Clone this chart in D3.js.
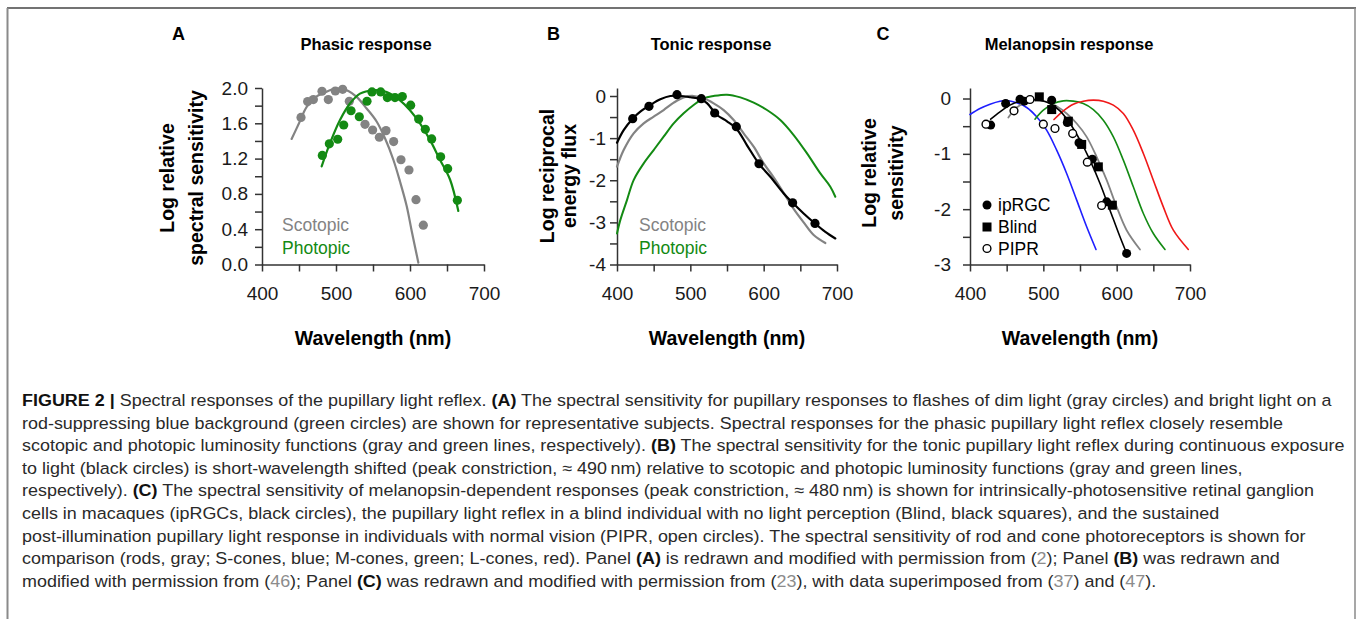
<!DOCTYPE html>
<html>
<head>
<meta charset="utf-8">
<script src="https://cdn.jsdelivr.net/npm/d3@7/dist/d3.min.js"></script>
<style>
  body { margin: 0; background: #fff; }
  svg { display: block; font-family: "Liberation Sans", Arial, Helvetica, sans-serif; }
</style>
</head>
<body>
<svg id="fig" width="1357" height="619"></svg>
<script>
// ---- data: [wavelength nm, value] ----
const wavelengthTicks = [400, 450, 500, 550, 600, 650, 700];
const wavelengthLabels = ['400', '', '500', '', '600', '', '700'];

// A: phasic response
const phasicYTicks = [0, 0.2, 0.4, 0.6, 0.8, 1.0, 1.2, 1.4, 1.6, 1.8, 2.0];
const phasicYLabels = ['0.0', '', '0.4', '', '0.8', '', '1.2', '', '1.6', '', '2.0'];
const phasicScotopicDots = [[452.7, 1.667], [461.7, 1.846], [469.4, 1.869], [481.1, 1.963], [489.6, 1.869],
  [499.1, 1.966], [509, 1.985], [518, 1.85], [539.2, 1.588], [549.5, 1.524], [558.6, 1.442], [567.6, 1.517],
  [577.9, 1.393], [587.8, 1.187], [598.6, 1.071], [608.1, 0.734], [618, 0.446]];
const phasicScotopicCurve = [[440, 1.423], [450, 1.6], [460.4, 1.787], [473.9, 1.906], [482.9, 1.94],
  [494.1, 1.982], [505.4, 1.993], [516.7, 1.966], [527.9, 1.899], [541.4, 1.768], [554.9, 1.62],
  [566.2, 1.43], [577.5, 1.187], [586.5, 0.94], [595.5, 0.663], [602.3, 0.38], [611.3, 0.02]];
const phasicPhotopicDots = [[481.5, 1.236], [491, 1.367], [502.3, 1.419], [510.4, 1.581], [520.3, 1.742],
  [531.5, 1.674], [541.9, 1.85], [548.6, 1.955], [560.4, 1.955], [569.4, 1.891], [579.7, 1.891],
  [589.6, 1.903], [600.9, 1.805], [611.7, 1.648], [620.7, 1.532], [629.3, 1.423], [641.4, 1.221],
  [650.9, 1.086], [664, 0.727]];
const phasicPhotopicCurve = [[480.6, 1.112], [491.9, 1.375], [505.4, 1.637], [518.9, 1.824], [532.4, 1.936],
  [550.5, 1.974], [568.5, 1.955], [586.5, 1.861], [600, 1.749], [613.5, 1.599], [627, 1.412],
  [640.5, 1.187], [654.1, 0.963], [665.3, 0.607]];

// B: tonic response
const tonicYTicks = [-4, -3.5, -3, -2.5, -2, -1.5, -1, -0.5, 0];
const tonicYLabels = ['-4', '', '-3', '', '-2', '', '-1', '', '0'];
const tonicDots = [[421.4, -0.539], [443.6, -0.246], [481.8, 0.032], [515, -0.063], [533.2, -0.404],
  [562.7, -0.729], [593.6, -1.608], [639.5, -2.535], [670, -3.026]];
const tonicCurve = [[400, -1.109], [409.1, -0.808], [421.4, -0.539], [431.8, -0.372], [445.5, -0.214],
  [459.1, -0.079], [472.7, 0], [486.4, 0], [500, -0.03], [513.6, -0.07], [522.7, -0.17], [536.4, -0.45],
  [550, -0.6], [562.7, -0.77], [577.3, -1.17], [593.6, -1.608], [609.1, -1.917], [627.3, -2.313],
  [639.5, -2.535], [654.5, -2.788], [670, -3.026], [684.1, -3.224], [697.7, -3.382]];
const tonicScotopic = [[400, -1.679], [409.1, -1.283], [422.7, -0.887], [436.4, -0.65], [450, -0.491],
  [463.6, -0.333], [477.3, -0.158], [490.9, -0.032], [504.5, 0], [518.2, -0.055], [531.8, -0.174],
  [545.5, -0.333], [559.1, -0.57], [572.7, -0.887], [586.4, -1.204], [600, -1.6], [613.6, -1.93],
  [627.3, -2.3], [640.9, -2.68], [654.5, -3.0], [668.2, -3.3], [684.1, -3.49]];
const tonicPhotopic = [[400, -3.263], [404.5, -2.947], [413.6, -2.471], [422.7, -1.996], [436.4, -1.6],
  [450, -1.283], [463.6, -0.966], [477.3, -0.65], [490.9, -0.412], [504.5, -0.214], [518.2, -0.055],
  [531.8, 0], [550, 0.032], [568.2, -0.032], [586.4, -0.158], [604.5, -0.333], [622.7, -0.57],
  [640.9, -0.927], [659.1, -1.362], [677.3, -1.838], [690.9, -2.155], [697.7, -2.392]];

// C: melanopsin response
const melYTicks = [-3, -2.5, -2, -1.5, -1, -0.5, 0];
const melYLabels = ['-3', '', '-2', '', '-1', '', '0'];
const ipRGC = [[428.2, -0.48], [448.6, -0.09], [468.2, -0.012], [474.1, -0.048], [511.4, -0.03],
  [532.7, -0.434], [548.6, -0.8], [566.8, -1.096], [586.4, -1.867], [613.6, -2.8]];
const blind = [[494.5, 0.03], [511.4, -0.2], [534.1, -0.41], [552.3, -0.83], [575, -1.235], [594.1, -1.928]];
const pipr = [[421.8, -0.464], [460, -0.223], [481.8, -0.018], [500, -0.464], [515.9, -0.542],
  [540, -0.633], [560, -1.15], [579.5, -1.934]];
const melFit = [[428.2, -0.373], [440.9, -0.241], [454.5, -0.12], [468.2, -0.048], [481.8, -0.018],
  [495.5, -0.03], [509.1, -0.09], [522.7, -0.223], [536.4, -0.452], [550, -0.753], [563.6, -1.114],
  [577.3, -1.536], [590.9, -2.018], [604.5, -2.5], [613.6, -2.8]];
const sCones = [[400, -0.289], [413.6, -0.181], [427.3, -0.102], [440.9, -0.048], [450, -0.036],
  [463.6, -0.078], [477.3, -0.163], [490.9, -0.331], [504.5, -0.572], [518.2, -0.934], [531.8, -1.355],
  [545.5, -1.837], [559.1, -2.319], [571.8, -2.729]];
const rods = [[452.3, -0.343], [463.6, -0.163], [477.3, -0.06], [490.9, -0.03], [504.5, -0.06],
  [518.2, -0.139], [531.8, -0.271], [545.5, -0.452], [559.1, -0.693], [572.7, -1.054], [586.4, -1.476],
  [600, -1.958], [613.6, -2.38], [631.8, -2.729]];
const mCones = [[488.6, -0.373], [500, -0.211], [513.6, -0.09], [527.3, -0.042], [540.9, -0.048],
  [554.5, -0.09], [568.2, -0.199], [581.8, -0.392], [595.5, -0.693], [609.1, -1.114], [622.7, -1.596],
  [636.4, -2.078], [650, -2.44], [665.9, -2.729]];
const lCones = [[514.5, -0.38], [527.3, -0.223], [540.9, -0.102], [554.5, -0.048], [568.2, -0.03],
  [581.8, -0.048], [595.5, -0.12], [609.1, -0.271], [622.7, -0.572], [636.4, -0.994], [650, -1.476],
  [663.6, -1.958], [677.3, -2.38], [697.7, -2.729]];

const captionLines = [
  "**FIGURE 2 |** Spectral responses of the pupillary light reflex. **(A)** The spectral sensitivity for pupillary responses to flashes of dim light (gray circles) and bright light on a",
  "rod-suppressing blue background (green circles) are shown for representative subjects. Spectral responses for the phasic pupillary light reflex closely resemble",
  "scotopic and photopic luminosity functions (gray and green lines, respectively). **(B)** The spectral sensitivity for the tonic pupillary light reflex during continuous exposure",
  "to light (black circles) is short-wavelength shifted (peak constriction, \u2248 490\u2009nm) relative to scotopic and photopic luminosity functions (gray and green lines,",
  "respectively). **(C)** The spectral sensitivity of melanopsin-dependent responses (peak constriction, \u2248 480\u2009nm) is shown for intrinsically-photosensitive retinal ganglion",
  "cells in macaques (ipRGCs, black circles), the pupillary light reflex in a blind individual with no light perception (Blind, black squares), and the sustained",
  "post-illumination pupillary light response in individuals with normal vision (PIPR, open circles). The spectral sensitivity of rod and cone photoreceptors is shown for",
  "comparison (rods, gray; S-cones, blue; M-cones, green; L-cones, red). Panel **(A)** is redrawn and modified with permission from ({2}); Panel **(B)** was redrawn and",
  "modified with permission from ({46}); Panel **(C)** was redrawn and modified with permission from ({23}), with data superimposed from ({37}) and ({47})."
];

const GRAY = '#838383', GREEN = '#138a13', AXIS = '#333';

const svg = d3.select('#fig');

// page frame (open at the bottom)
svg.append('line').attr('x1', 7).attr('x2', 1356).attr('y1', 8).attr('y2', 8)
  .attr('stroke', '#444').attr('stroke-width', 1.5);
svg.append('line').attr('x1', 7.5).attr('x2', 7.5).attr('y1', 8).attr('y2', 619)
  .attr('stroke', '#8a8a8a').attr('stroke-width', 2);
svg.append('line').attr('x1', 1355).attr('x2', 1355).attr('y1', 8).attr('y2', 619)
  .attr('stroke', '#8a8a8a').attr('stroke-width', 1.5);

function panel(o) {
  const g = svg.append('g');
  const x = d3.scaleLinear().domain([400, 700]).range([o.left, o.right]);
  const y = d3.scaleLinear().domain(o.yDomain).range([264.5, 88]);

  const xAxis = g.append('g').attr('transform', 'translate(0,264.5)')
    .call(d3.axisBottom(x).tickValues(wavelengthTicks)
      .tickFormat((d, i) => wavelengthLabels[i]).tickSize(7).tickSizeOuter(0).tickPadding(15));
  const yAxis = g.append('g').attr('transform', `translate(${o.left},0)`)
    .call(d3.axisLeft(y).tickValues(o.yTicks)
      .tickFormat((d, i) => o.yLabels[i]).tickSize(7).tickSizeOuter(0).tickPadding(o.yPad));
  [xAxis, yAxis].forEach(a => {
    a.selectAll('path, line').attr('stroke', AXIS).attr('stroke-width', 1.5);
    a.selectAll('text').attr('font-size', 19).attr('fill', '#1a1a1a').attr('font-family', null);
  });

  // titles
  g.append('text').attr('x', o.letterX).attr('y', 39.5).attr('text-anchor', 'middle')
    .attr('font-size', 18).attr('font-weight', 'bold').text(o.letter);
  g.append('text').attr('x', o.titleX).attr('y', 50).attr('text-anchor', 'middle')
    .attr('font-size', 16.5).attr('font-weight', 'bold').text(o.title);
  g.append('text').attr('x', (o.left + o.right) / 2).attr('y', 345).attr('text-anchor', 'middle')
    .attr('font-size', 19.5).attr('font-weight', 'bold').text('Wavelength (nm)');
  o.yTitle.forEach((t, i) => {
    g.append('text').attr('transform', `translate(${o.yTitleX[i]},${o.yTitleY}) rotate(-90)`)
      .attr('text-anchor', 'middle').attr('font-size', 19.5).attr('font-weight', 'bold').text(t);
  });

  const line = d3.line().x(d => x(d[0])).y(d => y(d[1])).curve(d3.curveCatmullRom.alpha(0.5));
  return { g, x, y, line };
}

function curve(p, data, color, width) {
  p.g.append('path').datum(data).attr('d', p.line)
    .attr('fill', 'none').attr('stroke', color).attr('stroke-width', width)
    .attr('stroke-linejoin', 'round').attr('stroke-linecap', 'round');
}
function dots(p, data, color, r) {
  p.g.append('g').selectAll('circle').data(data).join('circle')
    .attr('cx', d => p.x(d[0])).attr('cy', d => p.y(d[1])).attr('r', r).attr('fill', color);
}

// ---- Panel A ----
const pA = panel({
  left: 262, right: 484, yDomain: [0, 2], yTicks: phasicYTicks, yLabels: phasicYLabels, yPad: 7,
  letter: 'A', letterX: 178.5, title: 'Phasic response', titleX: 366,
  yTitle: ['Log relative', 'spectral sensitivity'], yTitleX: [174, 203], yTitleY: 178
});
curve(pA, phasicScotopicCurve, GRAY, 2.2);
dots(pA, phasicScotopicDots, GRAY, 4.6);
curve(pA, phasicPhotopicCurve, GREEN, 2.2);
dots(pA, phasicPhotopicDots, GREEN, 4.6);
pA.g.append('text').attr('x', 282).attr('y', 231).attr('font-size', 17.5).attr('fill', GRAY).text('Scotopic');
pA.g.append('text').attr('x', 282).attr('y', 254).attr('font-size', 17.5).attr('fill', GREEN).text('Photopic');

// ---- Panel B ----
const pB = panel({
  left: 617, right: 837, yDomain: [-4, 0.19], yTicks: tonicYTicks, yLabels: tonicYLabels, yPad: 4,
  letter: 'B', letterX: 553.5, title: 'Tonic response', titleX: 711,
  yTitle: ['Log reciprocal', 'energy flux'], yTitleX: [554, 576], yTitleY: 176
});
curve(pB, tonicPhotopic, GREEN, 2);
curve(pB, tonicScotopic, GRAY, 2.2);
curve(pB, tonicCurve, '#000', 2.2);
dots(pB, tonicDots, '#000', 4.6);
pB.g.append('text').attr('x', 639).attr('y', 231).attr('font-size', 17.5).attr('fill', GRAY).text('Scotopic');
pB.g.append('text').attr('x', 639).attr('y', 254).attr('font-size', 17.5).attr('fill', GREEN).text('Photopic');

// ---- Panel C ----
const pC = panel({
  left: 970, right: 1190, yDomain: [-3, 0.19], yTicks: melYTicks, yLabels: melYLabels, yPad: 12,
  letter: 'C', letterX: 883, title: 'Melanopsin response', titleX: 1069,
  yTitle: ['Log relative', 'sensitivity'], yTitleX: [876, 903], yTitleY: 173
});
curve(pC, sCones, '#1f1fff', 1.6);
curve(pC, rods, GRAY, 1.8);
curve(pC, mCones, GREEN, 1.6);
curve(pC, lCones, '#f01818', 1.6);
curve(pC, melFit, '#000', 1.6);
dots(pC, ipRGC, '#000', 4.5);
pC.g.append('g').selectAll('rect').data(blind).join('rect')
  .attr('x', d => pC.x(d[0]) - 4.5).attr('y', d => pC.y(d[1]) - 4.5)
  .attr('width', 9).attr('height', 9).attr('fill', '#000');
pC.g.append('g').selectAll('circle').data(pipr).join('circle')
  .attr('cx', d => pC.x(d[0])).attr('cy', d => pC.y(d[1])).attr('r', 3.9)
  .attr('fill', '#fff').attr('stroke', '#000').attr('stroke-width', 1.4);

// legend C
const legC = pC.g.append('g');
legC.append('circle').attr('cx', 987).attr('cy', 205).attr('r', 4.5).attr('fill', '#000');
legC.append('rect').attr('x', 982.5).attr('y', 222.5).attr('width', 9).attr('height', 9).attr('fill', '#000');
legC.append('circle').attr('cx', 987).attr('cy', 248.5).attr('r', 3.9)
  .attr('fill', '#fff').attr('stroke', '#000').attr('stroke-width', 1.4);
['ipRGC', 'Blind', 'PIPR'].forEach((t, i) => {
  legC.append('text').attr('x', 998).attr('y', [211, 233, 254.5][i]).attr('font-size', 17.5).text(t);
});

// ---- caption ----
const cap = svg.append('g');
const capTexts = captionLines.map((ln, i) => {
  const t = cap.append('text').attr('y', 406 + i * 22.6).attr('font-size', 17).attr('fill', '#2a2a2a');
  ln.split(/(\*\*[^*]+\*\*|\{[^}]+\})/).filter(s => s.length).forEach(s => {
    const ts = t.append('tspan');
    if (s.startsWith('**')) ts.attr('font-weight', 'bold').attr('fill', '#111').text(s.slice(2, -2));
    else if (s.startsWith('{')) ts.attr('fill', '#8c8c8c').text(s.slice(1, -1));
    else ts.text(s);
  });
  return t;
});
const w0 = capTexts[0].node().getComputedTextLength();
const sx = 1310 / w0;
capTexts.forEach(t => {
  const y = +t.attr('y');
  t.attr('y', null).attr('transform', `translate(22,${y}) scale(${sx},1)`);
});
</script>
</body>
</html>
